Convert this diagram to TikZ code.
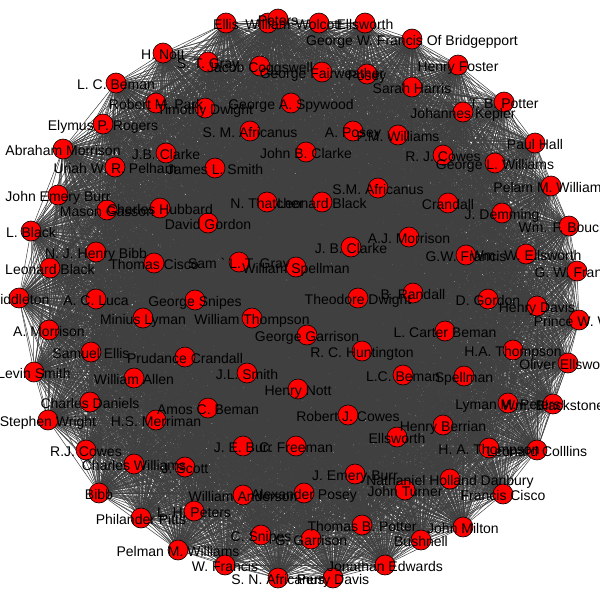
\documentclass[tikz,border=0pt]{standalone}
\usepackage{fontspec}
\setmainfont{Liberation Sans}
\usetikzlibrary{backgrounds}
\definecolor{edgegray}{RGB}{64,64,64}
\definecolor{vred}{RGB}{255,0,0}
\tikzset{
  vertex/.style={circle,fill=vred,draw=black,line width=0.6pt,minimum size=20pt,inner sep=0pt},
  vlabel/.style={inner sep=0pt,font=\fontsize{14}{16}\selectfont,text height=10pt,text depth=0pt,text=black,yshift=-1.5pt},
  edgeline/.style={draw=edgegray,line width=0.5pt}
}
\newcommand\mynodelist{%
1/226/23/Ellis,
2/268/23/William,
3/278/19/Peters,
4/319/23/Wolcott,
5/365/23/Ellsworth,
6/412/39/George W. Francis Of Bridgepport,
7/458/65/Henry Foster,
8/412/87/Sarah Harris,
9/504/102/T. B. Potter,
10/463/112/Johannes Kepler,
11/535/143/Paul Hall,
12/443/155/R. J. Cowes,
13/495/163/George L. Williams,
14/551/186/Pelam M. Williams,
15/448/203/Crandall,
16/502/213/J. Demming,
17/569/226/Wm. F. Boucher,
18/409/237/A.J. Morrison,
19/466/255/G.W. Francis,
20/526/254/Wm. W. Ellsworth,
21/577/271/G. W. Francis,
22/413/293/B. Randall,
23/488/299/D. Gordon,
24/537/306/Henry Davis,
25/579/320/Prince W. Wall,
26/445/331/L. Carter Beman,
27/513/350/H.A. Thompson,
28/568/363/Oliver Ellsworth,
29/403/375/L.C. Beman,
30/464/376/Spellman,
31/508/403/Lyman M. Peters,
32/553/404/Wm. Blackstone,
33/443/425/Henry Berrian,
34/489/448/H. A. Thompson,
35/537/450/Leonard Colllins,
36/450/479/Nathaniel Holland Danbury,
37/405/490/John Turner,
38/503/494/Francis Cisco,
39/463/527/John Milton,
40/421/540/Bushnell,
41/385/565/Jonathan Edwards,
42/333/578/Perry Davis,
43/278/578/S. N. Africanus,
44/225/565/W. Francis,
45/178/550/Pelman M. Williams,
46/311/539/G. Garrison,
47/261/535/C. Snipes,
48/362/525/Thomas B. Potter,
49/141/518/Philander Pitts,
50/194/511/L. H. Peters,
51/99/493/Bibb,
52/243/495/William Anderson,
53/304/493/Alexander Posey,
54/355/474/J. Emery Burr,
55/185/467/J. Scott,
56/134/464/Charles Williams,
57/86/450/R.J. Cowes,
58/243/446/J. E. Burr,
59/296/446/C. Freeman,
60/397/437/Ellsworth,
61/348/415/Robert J. Cowes,
62/208/408/Amos C. Beman,
63/156/420/H.S. Merriman,
64/48/420/Stephen Wright,
65/90/402/Charles Daniels,
66/298/389/Henry Nott,
67/134/378/William Allen,
68/34/372/Levin Smith,
69/247/373/J.L. Smith,
70/185/357/Prudance Crandall,
71/91/352/Samuel Ellis,
72/362/351/R. C. Huntington,
73/307/335/George Garrison,
74/49/330/A. Morrison,
75/143/318/Minius Lyman,
76/252/318/William Thompson,
77/195/300/George Snipes,
78/96/299/A. C. Luca,
79/19/298/Middleton,
80/358/298/Theodore Dwight,
81/50/268/Leonard Black,
82/154/263/Thomas Cisco,
83/239/262/Sam \textasciigrave\ L. T. Gray,
84/296/267/William Spellman,
85/96/252/N. J. Henry Bibb,
86/351/247/J. B. Clarke,
87/31/231/L. Black,
88/208/223/David Gordon,
89/107/210/Mason Gasson,
90/160/208/Charles Hubbard,
91/267/202/N. Thatcher,
92/322/202/Leonard Black,
93/58/195/John Emery Burr,
94/378/188/S.M. Africanus,
95/215/168/James L. Smith,
96/306/152/John B. Clarke,
97/115/167/Uriah W. R. Pelham,
98/166/153/J.B. Clarke,
99/63/149/Abraham Morrison,
100/250/131/S. M. Africanus,
101/353/131/A. Posey,
102/398/135/P.M. Williams,
103/103/124/Elymus P. Rogers,
104/291/103/George A. Spywood,
105/205/108/Timothy Dwight,
106/156/103/Robert M. Park,
107/116/83/L. C. Beman,
108/322/72/George Fairweather,
109/367/74/Posey,
110/260/66/Jacob Coggswell,
111/208/62/S. T. Gray,
112/163/53/H. Nott%
}
\begin{document}
\begin{tikzpicture}[x=1pt,y=-1pt]
\useasboundingbox (0,0) rectangle (600,600);
\foreach \i/\x/\y/\t in \mynodelist {
  \node[vertex] (n\i) at (\x,\y) {};
}
\begin{pgfonlayer}{background}
\fill[white] (0,0) rectangle (600,600);
\foreach \i in {1,...,111}{
  \pgfmathtruncatemacro\js{\i+1}
  \foreach \j in {\js,...,112}{
    \draw[edgeline] (n\i.center) -- (n\j.center);
  }
}
\end{pgfonlayer}
\foreach \i/\x/\y/\t in \mynodelist {
  \node[vlabel] (l\i) at (n\i.center) {\t};
}
\end{tikzpicture}
\end{document}
